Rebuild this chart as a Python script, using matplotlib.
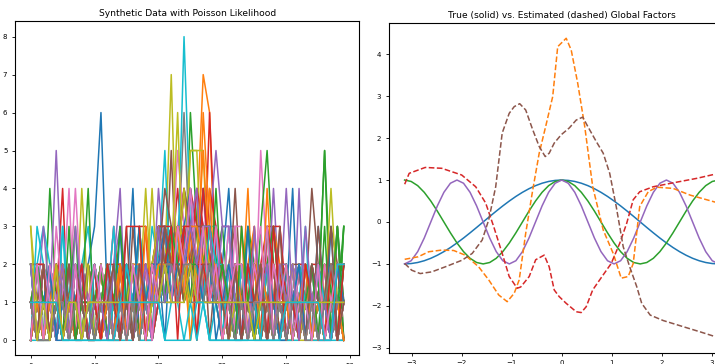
import numpy as np
import matplotlib
matplotlib.use("Agg")
import matplotlib.pyplot as plt

# counts per neuron over 50 time bins (one string per series, one digit per bin)
counts = [
    "2011021012" "3610210121" "2132231221" "2101210110" "1201102101",
    "0102101120" "1010210301" "2213223761" "1021402101" "0110211020",
    "1104121020" "1201021310" "3122163121" "2101321011" "1020110213",
    "0210140211" "2013110331" "3324213162" "1201012331" "0211020110",
    "1021510120" "0112301021" "2313234235" "3301120110" "1022101201",
    "0121020110" "1102103121" "2151232302" "1230201211" "0121420130",
    "1010214021" "2013012022" "1323423132" "3330105210" "2101210021",
    "1102011121" "0121102110" "1212620231" "2012101120" "1120112031",
    "3110201041" "1201012210" "1271302211" "0211211120" "1011011111",
    "2232030123" "1021200213" "2512831331" "0120121011" "0102101222",
    "0101202101" "1020301011" "2031222312" "2412011021" "1110200101",
    "1020110120" "0201102011" "2132221632" "1021010412" "0121001210",
    "1201010214" "0120111021" "2313122231" "1102103520" "1210215103",
    "1002101210" "2101020130" "2332223143" "2101130210" "1201101120",
    "0110120101" "1102401120" "1223324311" "1020120141" "1021012010",
    "2100212001" "1201021102" "1322431221" "1141201011" "0120110221",
    "1020101412" "0110210120" "2125322231" "2033011201" "1020110012",
    "1111011210" "0101120101" "1221312212" "1102101101" "1011101111",
    "0210101120" "1021012141" "2326155512" "1201012101" "1102101210",
    "2202101021" "0012101201" "1232312333" "0201210101" "2010011022",
    "1011201010" "2110014010" "2213121332" "2011020211" "1401031102",
    "0110102110" "1201101120" "1232202312" "1010230132" "2012101101",
    "1002120110" "2110201212" "3121232213" "1121012101" "0012115031",
    "2221210101" "1022202021" "3321230321" "2110121233" "1201220101",
    "0131010201" "1021010221" "4212321323" "2110211021" "4102101022",
    "1021201021" "0102130210" "2131232423" "1102011031" "2101021320",
    "1102021001" "1201011202" "2231322412" "1020311120" "1101200122",
    "1011110110" "1101111021" "2121212111" "1111021101" "1111111011",
    "1011111011" "1111211014" "1232255121" "1111101211" "1101111411",
    "0321031201" "1013020310" "3322323101" "1302020131" "0213020122",
    "1001200210" "0100121011" "1231341211" "1200211010" "2011010301",
    "1010101102" "1120011021" "2321232231" "1201011020" "1010210110",
    "2110121301" "0211010102" "1322223322" "3101101231" "2110120103",
    "0112021020" "1201201101" "3322424321" "1010210320" "1022011211",
    "1011020121" "0120110201" "1323233122" "0110201310" "1040121010",
    "2101201102" "1020101210" "2432312131" "1121020101" "0221031021",
    "1020310101" "0102011021" "2123141221" "1012023010" "1201100210",
    "0100101001" "1010110100" "1111211111" "0101100110" "1010010100",
    "1010101011" "0101110101" "2112122121" "1010101011" "1100110111",
    "0000100000" "0000001000" "1011010100" "0000010000" "0001000000",
    "0212010211" "2011202101" "1322312421" "0212102120" "2101020112",
    "1201021010" "0120102211" "2231332522" "1203010211" "0210121021",
    "2010210102" "1202011210" "2123223214" "1201310201" "1021012130",
    "1120201021" "0201120102" "3231243312" "2012021103" "1201102010",
    "0102011201" "1021201012" "2312323213" "1021012012" "2012101201",
    "2011021012" "1012010121" "1232433221" "2101202013" "0120121102",
    "1202101020" "0101210210" "2321232231" "1302011021" "1020120101",
    "1010210101" "2101020121" "1212321212" "0120101210" "1012012012",
    "0120101210" "1201210102" "3212423121" "1021012102" "0210110201",
    "2021012012" "1020121010" "2132321323" "0210201210" "1202101012",
    "1012002101" "0121010120" "2213242112" "1021102101" "0211021201",
    "2101201010" "1021201201" "1323231241" "2101020120" "1201102101",
    "0211020102" "1201012012" "2132213232" "1120121011" "2012101202",
    "1020112010" "2010210120" "1322321423" "2101021012" "0120211021",
    "2101020121" "0120101210" "2213234121" "1021012101" "2101120210",
    "0120102012" "1021020121" "3223123312" "0120210120" "1012021012",
    "1021010201" "0210102120" "2312242213" "1201021021" "0210102101",
    "0101120110" "1011011011" "1212121211" "1010111010" "1101011101",
    "2100120102" "0121012101" "2213212321" "1012101202" "1201010210",
    "0202101210" "2101021012" "1232232132" "2102010201" "0121021012",
    "1102010120" "1021101312" "2312232120" "1210301210" "0120211021",
    "0101120101" "1010201031" "2223133212" "0121012101" "1012010210",
    "1210103011" "0121310102" "1232122331" "2103101301" "2011203012",
    "0220101120" "1021033302" "1230332212" "1120212031" "0102110202",
    "2010120310" "1102010121" "3121232331" "3311031202" "1203101011",
    "1020110210" "0112010211" "1322121221" "1020112011" "1110211301",
    "0202110201" "2110102102" "1213221312" "0122011301" "2011020122",
    "1000110101" "0110101011" "1221221121" "1101011101" "0110101211",
    "3010201101" "1111111111" "1211121111" "1111101111" "1111111111",
    "1111100000" "0000111111" "1000001100" "0000000000" "1111110022",
]

# true factors sampled on 49 points over [-pi, pi]
true_f1 = [-1, -0.991, -0.966, -0.924, -0.866, -0.793, -0.707, -0.609, -0.5, -0.383,
           -0.259, -0.131, 0, 0.131, 0.259, 0.383, 0.5, 0.609, 0.707, 0.793, 0.866,
           0.924, 0.966, 0.991, 1, 0.991, 0.966, 0.924, 0.866, 0.793, 0.707, 0.609,
           0.5, 0.383, 0.259, 0.131, 0, -0.131, -0.259, -0.383, -0.5, -0.609, -0.707,
           -0.793, -0.866, -0.924, -0.966, -0.991, -1]
true_f2 = [1, 0.966, 0.866, 0.707, 0.5, 0.259, 0, -0.259, -0.5, -0.707, -0.866, -0.966,
           -1, -0.966, -0.866, -0.707, -0.5, -0.259, 0, 0.259, 0.5, 0.707, 0.866, 0.966,
           1, 0.966, 0.866, 0.707, 0.5, 0.259, 0, -0.259, -0.5, -0.707, -0.866, -0.966,
           -1, -0.966, -0.866, -0.707, -0.5, -0.259, 0, 0.259, 0.5, 0.707, 0.866, 0.966, 1]
true_f3 = [-1, -0.924, -0.707, -0.383, 0, 0.383, 0.707, 0.924, 1, 0.924, 0.707, 0.383,
           0, -0.383, -0.707, -0.924, -1, -0.924, -0.707, -0.383, 0, 0.383, 0.707, 0.924,
           1, 0.924, 0.707, 0.383, 0, -0.383, -0.707, -0.924, -1, -0.924, -0.707, -0.383,
           0, 0.383, 0.707, 0.924, 1, 0.924, 0.707, 0.383, 0, -0.383, -0.707, -0.924, -1]

# estimated factors
est1_x = [-3.14, -2.87, -2.66, -2.40, -2.16, -1.93, -1.66, -1.46, -1.26, -1.09, -0.95,
          -0.85, -0.72, -0.58, -0.45, -0.32, -0.18, -0.08, 0.09, 0.19, 0.32, 0.46, 0.62,
          0.83, 1.03, 1.19, 1.33, 1.43, 1.56, 1.73, 1.90, 2.23, 2.57, 3.14]
est1_y = [-0.89, -0.83, -0.71, -0.67, -0.68, -0.79, -1.07, -1.38, -1.74, -1.90, -1.70,
          -1.38, -0.27, 0.76, 1.64, 2.28, 2.99, 4.18, 4.38, 4.10, 3.31, 2.28, 0.84,
          -0.19, -0.75, -1.34, -1.30, -0.99, 0.37, 0.72, 0.83, 0.80, 0.64, 0.45]
est2_x = [-3.14, -3.05, -2.73, -2.40, -2.00, -1.72, -1.52, -1.36, -1.19, -1.05, -0.89,
          -0.82, -0.65, -0.52, -0.35, -0.25, -0.15, -0.05, 0.09, 0.29, 0.39, 0.49, 0.62,
          0.83, 0.99, 1.16, 1.30, 1.43, 1.56, 1.83, 2.17, 2.70, 3.14]
est2_y = [0.90, 1.16, 1.30, 1.28, 1.12, 0.84, 0.45, -0.11, -0.75, -1.30, -1.58, -1.55,
          -1.30, -0.90, -0.79, -1.07, -1.62, -1.78, -1.94, -2.14, -2.16, -2.02, -1.62,
          -1.26, -0.99, -0.51, -0.03, 0.53, 0.72, 0.84, 0.92, 1.04, 1.16]
est3_x = [-3.14, -3.00, -2.83, -2.60, -2.33, -1.99, -1.79, -1.59, -1.46, -1.32, -1.19,
          -1.05, -0.95, -0.84, -0.72, -0.58, -0.45, -0.33, -0.25, -0.15, -0.01, 0.15,
          0.29, 0.42, 0.52, 0.69, 0.83, 0.96, 1.09, 1.23, 1.36, 1.50, 1.60, 1.77, 2.03,
          2.44, 2.77, 3.14]
est3_y = [-0.99, -1.15, -1.23, -1.19, -1.07, -0.91, -0.75, -0.43, 0.05, 0.84, 2.12,
          2.59, 2.75, 2.82, 2.67, 2.20, 1.80, 1.56, 1.64, 1.88, 2.08, 2.24, 2.43, 2.50,
          2.28, 1.92, 1.64, 1.16, 0.37, -0.59, -1.07, -1.54, -1.94, -2.22, -2.35, -2.50,
          -2.62, -2.76]

fig = plt.figure(figsize=(7.15, 3.64), dpi=100)
ax1 = fig.add_axes([0.021, 0.0234, 0.4817, 0.9176])
ax2 = fig.add_axes([0.5439, 0.031, 0.4834, 0.905])

t = np.arange(50)
for row in counts:
    ax1.plot(t, [int(c) for c in row], lw=1.1)
ax1.set_title("Synthetic Data with Poisson Likelihood", fontsize=6.6, pad=4)
ax1.tick_params(labelsize=5, length=2, width=0.6)

x = np.linspace(-np.pi, np.pi, 49)
ax2.plot(x, true_f1, color="C0", lw=1.1)
ax2.plot(x, true_f2, color="C2", lw=1.1)
ax2.plot(x, true_f3, color="C4", lw=1.1)
ax2.plot(est1_x, est1_y, "--", color="C1", lw=1.1)
ax2.plot(est2_x, est2_y, "--", color="C3", lw=1.1)
ax2.plot(est3_x, est3_y, "--", color="C5", lw=1.1)
ax2.set_xlim(-3.456, 3.456)
ax2.set_title("True (solid) vs. Estimated (dashed) Global Factors", fontsize=6.6, pad=4)
ax2.tick_params(labelsize=5, length=2, width=0.6)

fig.savefig("out.png", dpi=100)
